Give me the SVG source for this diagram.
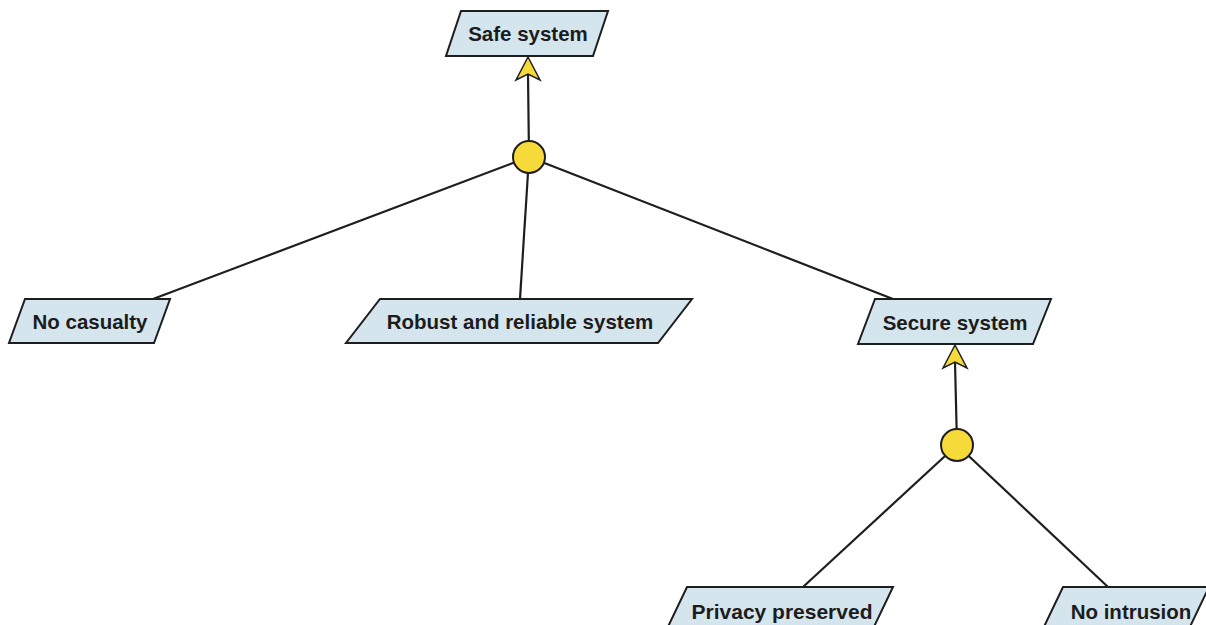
<svg xmlns="http://www.w3.org/2000/svg" width="1206" height="625" viewBox="0 0 1206 625">
  <style>
    .goal { fill: #d5e5ee; stroke: #1e1e1e; stroke-width: 2; stroke-linejoin: miter; }
    .label { font-family: "Liberation Sans", Arial, sans-serif; font-weight: bold; font-size: 20.5px; fill: #1c1c1c; text-anchor: middle; }
    .link { stroke: #1e1e1e; stroke-width: 2.2; fill: none; }
    .and { fill: #f5da3a; stroke: #1e1e1e; stroke-width: 2; }
    .head { fill: #f5da3a; stroke: #1e1e1e; stroke-width: 1.5; stroke-linejoin: miter; }
  </style>
  <defs>
    <!-- notched arrowhead, tip at origin pointing up -->
    <path id="arrowUp" d="M0,0 L12,23 L0,17 L-12,23 Z"/>
  </defs>
  <rect width="1206" height="625" fill="#ffffff"/>

  <g id="connectors">
    <line class="link" x1="529" y1="157" x2="528" y2="74"/>
    <line class="link" x1="529" y1="157" x2="153" y2="299"/>
    <line class="link" x1="529" y1="157" x2="520" y2="299"/>
    <line class="link" x1="529" y1="157" x2="893" y2="299"/>
    <line class="link" x1="957" y1="445" x2="955" y2="362"/>
    <line class="link" x1="957" y1="445" x2="803" y2="587"/>
    <line class="link" x1="957" y1="445" x2="1108" y2="587"/>
    <use href="#arrowUp" class="head" x="528" y="57"/>
    <use href="#arrowUp" class="head" x="955" y="345"/>
  </g>

  <g id="and-top">
    <circle class="and" cx="529" cy="157" r="16"/>
  </g>
  <g id="and-secure">
    <circle class="and" cx="957" cy="445" r="16"/>
  </g>

  <g id="safe-system">
    <polygon class="goal" points="461,11 608,11 593,56 446,56"/>
    <text class="label" x="528" y="41">Safe system</text>
  </g>
  <g id="no-casualty">
    <polygon class="goal" points="25,299 170,299 154,343 9,343"/>
    <text class="label" x="90" y="329">No casualty</text>
  </g>
  <g id="robust-reliable">
    <polygon class="goal" points="380,299 692,299 658,343 346,343"/>
    <text class="label" x="520" y="329">Robust and reliable system</text>
  </g>
  <g id="secure-system">
    <polygon class="goal" points="875,299 1051,299 1033,344 858,344"/>
    <text class="label" x="955" y="330">Secure system</text>
  </g>
  <g id="privacy-preserved">
    <polygon class="goal" points="687,587 893,587 871,633 665,633"/>
    <text class="label" x="782" y="619" style="font-size:21px">Privacy preserved</text>
  </g>
  <g id="no-intrusion">
    <polygon class="goal" points="1063,587 1209,587 1187,633 1041,633"/>
    <text class="label" x="1131" y="619">No intrusion</text>
  </g>
</svg>
